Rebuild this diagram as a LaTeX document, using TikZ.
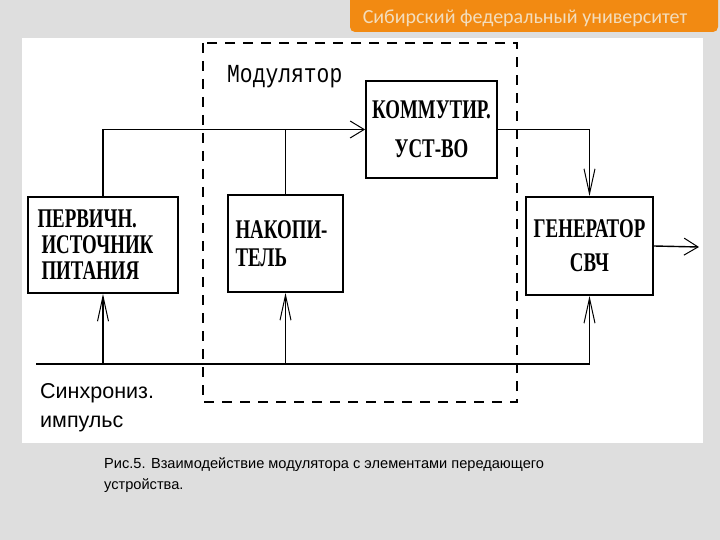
\documentclass[tikz,border=0pt]{standalone}
\usepackage{fontspec}
\usetikzlibrary{arrows.meta}
\setmainfont{Liberation Serif}
\newfontfamily\boxfont[FakeStretch=0.70]{Liberation Serif}
\newfontfamily\modfont[FakeStretch=0.82]{Liberation Mono}
\newfontfamily\capfont{Liberation Sans}
\newfontfamily\banfont{Carlito}
\definecolor{bggray}{HTML}{DEDEDE}
\definecolor{banorange}{HTML}{F28A12}
\definecolor{bantext}{HTML}{F3DDBC}
\tikzset{
  blk/.style={draw, line width=1.8pt, inner sep=0pt, align=center,
    font=\boxfont\bfseries\fontsize{27}{30}\selectfont},
  wire/.style={line width=1.4pt},
  tipv/.style={-{Straight Barb[length=25pt,width=11pt,line width=1pt]}},
  tiph/.style={-{Straight Barb[length=14pt,width=17pt,line width=1pt]}},
  modbox/.style={dashed, line width=1.4pt, dash pattern=on 10pt off 8pt},
}
\begin{document}
\begin{tikzpicture}[x=1pt,y=-1pt]
\useasboundingbox (0,0) rectangle (720,540);
\fill[bggray] (0,0) rectangle (720,540);
\fill[white] (22,38) rectangle (703,443);
% banner
\fill[banorange, rounded corners=5pt] (350,-6) rectangle (718,32);
\node[anchor=base, text=bantext, font=\banfont\fontsize{20}{22}\selectfont] (ban) at (525,24) {Сибирский федеральный университет};
% modulator dashed frame
\draw[modbox] (203,43) rectangle (517,402);
\node[anchor=base west, inner sep=0pt, font=\modfont\fontsize{26}{28}\selectfont] (modl) at (227,83) {Модулятор};
% blocks
\node[blk, minimum height=96pt, text width=131pt, inner xsep=9.5pt, align=left,
  font=\boxfont\bfseries\fontsize{27}{26}\selectfont] (perv) at (103,245)
  {ПЕРВИЧН.\\ \hspace*{4pt}ИСТОЧНИК\\ \hspace*{4pt}ПИТАНИЯ};
\node[blk, minimum height=97pt, text width=100pt, inner xsep=7.5pt, align=left,
  font=\boxfont\bfseries\fontsize{27}{28}\selectfont] (nakop) at (285.5,243.5)
  {НАКОПИ-\\ТЕЛЬ};
\node[blk, minimum width=131pt, minimum height=97pt,
  font=\boxfont\bfseries\fontsize{27}{39}\selectfont] (komm) at (431.5,129.5)
  {КОММУТИР.\\УСТ-ВО};
\node[blk, minimum width=127pt, minimum height=98pt,
  font=\boxfont\bfseries\fontsize{27}{34}\selectfont] (gen) at (589.5,246)
  {ГЕНЕРАТОР\\СВЧ};
% connectors
\coordinate (sync) at (36,364);
\coordinate (out) at (699,247);
\draw[wire, tiph] (perv.north) |- (komm.west);
\draw[wire] (nakop.north) -- (nakop.north |- komm.west);
\draw[wire, tipv] (komm.east) -| (gen.north);
\draw[wire, tiph] (gen.east) -- (out);
\draw[wire, tipv] (sync) -| (gen.south);
\draw[wire, tipv] (perv.south |- sync) -- (perv.south);
\draw[wire, tipv] (nakop.south |- sync) -- (nakop.south);
% sync label
\node[anchor=base west, inner sep=0pt, font=\capfont\fontsize{21.5}{24}\selectfont] (s1) at (40,398) {Синхрониз.};
\node[anchor=base west, inner sep=0pt, font=\capfont\fontsize{21.5}{24}\selectfont] (s2) at (40,427) {импульс};
% caption
\node[anchor=base west, inner sep=0pt, font=\capfont\fontsize{14.6}{16}\selectfont] (c1) at (104,468) {Рис.5. Взаимодействие модулятора с элементами передающего};
\node[anchor=base west, inner sep=0pt, font=\capfont\fontsize{14.6}{16}\selectfont] (c2) at (104,489) {устройства.};
\end{tikzpicture}
\end{document}
